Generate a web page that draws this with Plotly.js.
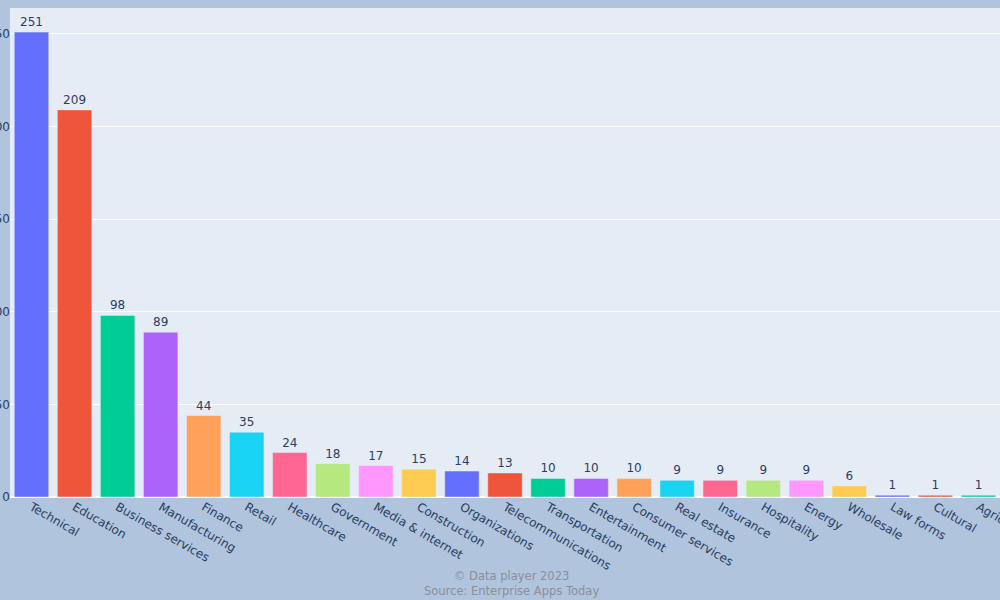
<!DOCTYPE html>
<html>
<head>
<meta charset="utf-8">
<script src="https://cdn.plot.ly/plotly-3.0.1.min.js"></script>
<style>
  html, body { margin: 0; padding: 0; background: #b0c4de; }
  #chart { width: 1000px; height: 600px; }
</style>
</head>
<body>
<div id="chart"></div>
<script>
const industries = ["Technical", "Education", "Business services", "Manufacturing", "Finance", "Retail",
  "Healthcare", "Government", "Media & internet", "Construction", "Organizations", "Telecommunications",
  "Transportation", "Entertainment", "Consumer services", "Real estate", "Insurance", "Hospitality",
  "Energy", "Wholesale", "Law forms", "Cultural", "Agriculture"];
const counts = [251, 209, 98, 89, 44, 35, 24, 18, 17, 15, 14, 13, 10, 10, 10, 9, 9, 9, 9, 6, 1, 1, 1];
const palette = ['#636efa', '#EF553B', '#00cc96', '#ab63fa', '#FFA15A', '#19d3f3', '#FF6692', '#B6E880', '#FF97FF', '#FECB52'];

const barColors = industries.map((d, i) => palette[i % palette.length]);

const data = [{
  type: 'bar',
  x: industries,
  y: counts,
  text: counts.map(String),
  textposition: 'outside',
  cliponaxis: false,
  textfont: { size: 12, color: '#2a3f5f' },
  marker: { color: barColors, line: { color: '#E5ECF6', width: 0.5 } },
  hoverinfo: 'x+y'
}];

const layout = {
  width: 1000,
  height: 600,
  margin: { t: 8, l: 10, r: 0, b: 103 },
  paper_bgcolor: '#b0c4de',
  plot_bgcolor: '#e5ecf6',
  font: { family: 'DejaVu Sans, Verdana, sans-serif', size: 12, color: '#2a3f5f' },
  showlegend: false,
  bargap: 0.2,
  xaxis: {
    type: 'category',
    tickangle: 30,
    automargin: false,
    showgrid: false,
    ticks: '',
    tickfont: { size: 12, color: '#2a3f5f' }
  },
  yaxis: {
    range: [0, 264],
    dtick: 50,
    automargin: false,
    gridcolor: 'white',
    zerolinecolor: 'white',
    zerolinewidth: 2,
    ticklabelstandoff: -1,
    tickfont: { size: 12, color: '#2a3f5f' }
  },
  annotations: [{
    text: '© Data player 2023<br>Source: Enterprise Apps Today',
    xref: 'paper', yref: 'paper',
    x: 0.507, y: -0.143,
    xanchor: 'center', yanchor: 'top',
    showarrow: false,
    align: 'center',
    font: { size: 11.5, color: '#8a8f99' }
  }]
};

Plotly.newPlot('chart', data, layout, { displayModeBar: false });
</script>
</body>
</html>
